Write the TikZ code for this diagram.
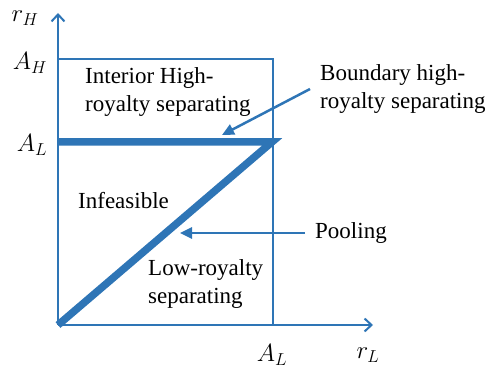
\documentclass[tikz,border=0pt]{standalone}
\usepackage{fontspec}
\setmainfont{Liberation Serif}
\newfontfamily\lblfont{Liberation Serif}
\usetikzlibrary{arrows.meta}
\definecolor{lineblue}{RGB}{46,117,182}
\tikzset{
  axis/.style={draw=lineblue, line width=2pt, -{Straight Barb[length=7pt,width=13pt,line width=2pt]}},
  thinline/.style={draw=lineblue, line width=2pt},
  thickline/.style={draw=lineblue, line width=7.5pt},
  pointer/.style={draw=lineblue, line width=2.5pt, -{Triangle[length=12pt,width=11pt]}},
  region/.style={anchor=west, align=left, inner sep=0pt, font=\lblfont\fontsize{23}{28}\selectfont},
  ticklbl/.style={inner sep=0pt, font=\fontsize{23}{28}\selectfont}
}
\begin{document}
\begin{tikzpicture}[x=1pt, y=-1pt]
    \useasboundingbox (0,0) rectangle (490,374);
    % axes
    \coordinate (O) at (58,325);
    \coordinate (xend) at (373,325);
    \coordinate (yend) at (58,13);
    \draw[axis] (O) -- (xend);
    \draw[axis] (O) -- (yend);
    \node[ticklbl] (rH) at (25,18) {$r_H$};
    \node[ticklbl] (rL) at (368,355) {$r_L$};
    \node[ticklbl] (AHy) at (30,63) {$A_H$};
    \node[ticklbl] (ALy) at (32,145) {$A_L$};
    \node[ticklbl] (ALx) at (272,355) {$A_L$};

    % box
    \coordinate (AH) at (58,59);
    \coordinate (C) at (273,59);
    \coordinate (ALx0) at (273,325);
    \draw[thinline] (AH) -- (C) -- (ALx0);

    % thick lines
    \coordinate (AL) at (58,142);
    \coordinate (P) at (272,142);
    \draw[thickline, line join=miter] (AL) -- (P) -- (O);

    % region labels
    \node[region] (interior) at (85,92) {Interior High-\\royalty separating};
    \node[region] (infeas) at (78,201) {Infeasible};
    \node[region] (lowsep) at (148,284) {Low-royalty\\separating};
    \node[region] (bnd) at (320,89) {Boundary high-\\royalty separating};
    \node[region] (pool) at (315,233) {Pooling};

    % pointers
    \coordinate (bndtip) at (222,135);
    \coordinate (pooltip) at (180,233);
    \draw[pointer] ([xshift=-10pt]bnd.west) -- (bndtip);
    \draw[pointer] ([xshift=-10pt]pool.west) -- (pooltip);
\end{tikzpicture}
\end{document}
